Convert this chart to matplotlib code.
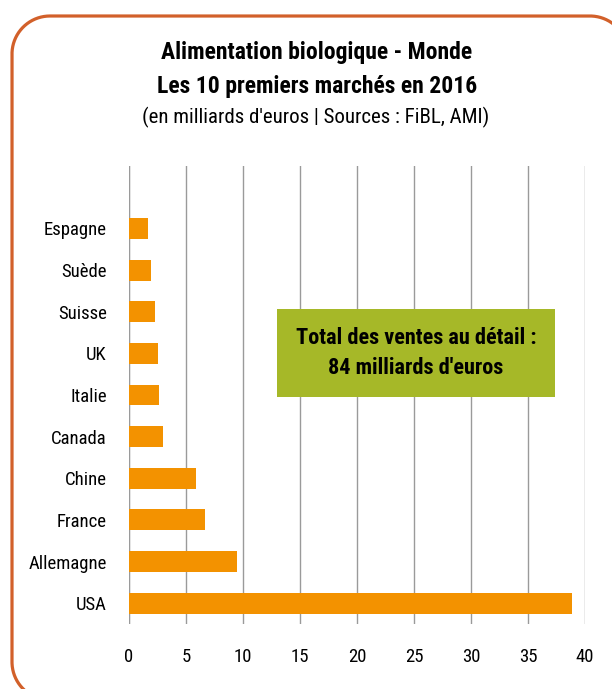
import matplotlib
matplotlib.use("Agg")
import numpy as np
import matplotlib.pyplot as plt
from matplotlib import font_manager
from matplotlib.patches import Rectangle

countries = ["USA", "Allemagne", "France", "Chine", "Canada", "Italie", "UK", "Suisse", "Suède", "Espagne"]
values = [38.9, 9.5, 6.7, 5.9, 3.0, 2.6, 2.5, 2.3, 1.9, 1.7]
xticks = [0, 5, 10, 15, 20, 25, 30, 35, 40]
title1 = "Alimentation biologique - Monde"
title2 = "Les 10 premiers marchés en 2016"
subtitle = "(en milliards d'euros | Sources : FiBL, AMI)"
box_text = "Total des ventes au détail :\n84 milliards d'euros"

available = {f.name for f in font_manager.fontManager.ttflist}
fam = "DejaVu Sans"
for cand in ["Liberation Sans Narrow", "DejaVu Sans Condensed", "Roboto Condensed", "Open Sans Condensed", "Noto Sans"]:
    if cand in available:
        fam = cand
        break
plt.rcParams["font.family"] = [fam, "DejaVu Sans"]

W, H = 612, 689
fig = plt.figure(figsize=(W / 100, H / 100), dpi=100)
fig.patch.set_facecolor("white")

# overlay in pixel coordinates for the rounded border (true circular arcs)
bg = fig.add_axes([0, 0, 1, 1], zorder=0)
bg.set_xlim(0, W)
bg.set_ylim(H, 0)
bg.axis("off")
L, T, R, B, r = 12, 16, 628, 700, 38
def arc(cx, cy, a0, a1):
    a = np.radians(np.linspace(a0, a1, 40))
    return cx + r * np.cos(a), cy + r * np.sin(a)
xs, ys = [], []
for cx, cy, a0, a1 in [(L + r, B - r, 90, 180), (L + r, T + r, 180, 270),
                       (R - r, T + r, 270, 360), (R - r, B - r, 0, 90)]:
    ax_, ay_ = arc(cx, cy, a0, a1)
    xs.extend(ax_); ys.extend(ay_)
bg.plot(xs, ys, color="#D2602A", linewidth=2.3, solid_joinstyle="round",
        solid_capstyle="round")

ax = fig.add_axes([129 / W, (H - 624) / H, (585 - 129) / W, (624 - 166) / H], zorder=1)
ax.patch.set_alpha(0)
pos = list(range(len(countries)))
ax.barh(pos, values, height=0.5, color="#F39200", zorder=3)
ax.set_xlim(0, 40)
ax.set_ylim(-0.5, 10.5)
ax.set_xticks(xticks)
ax.set_xticklabels([str(t) for t in xticks], fontsize=13.5)
ax.set_yticks(pos)
ax.set_yticklabels(countries, fontsize=13.5)
ax.tick_params(axis="both", length=0)
ax.tick_params(axis="y", pad=16)
ax.tick_params(axis="x", pad=17)
ax.grid(axis="x", color="#9A9A9A", linewidth=1, zorder=0)
ax.axvline(0, color="#BDBDBD", linewidth=1.6, zorder=1)
for s in ax.spines.values():
    s.set_visible(False)

# green annotation box
ax.add_patch(Rectangle((277 / W, (H - 397) / H), (555 - 277) / W, (397 - 309) / H,
                       transform=fig.transFigure, facecolor="#A6B828",
                       edgecolor="none", zorder=5))
fig.text(416 / W, (H - 353) / H, box_text, ha="center", va="center",
         fontsize=16, fontweight="bold", linespacing=1.45, zorder=6)

fig.text(317 / W, (H - 53) / H, title1, ha="center", va="center", fontsize=17, fontweight="bold")
fig.text(317 / W, (H - 87) / H, title2, ha="center", va="center", fontsize=17, fontweight="bold")
fig.text(316 / W, (H - 117) / H, subtitle, ha="center", va="center", fontsize=15)

fig.savefig("out.png", dpi=100)
